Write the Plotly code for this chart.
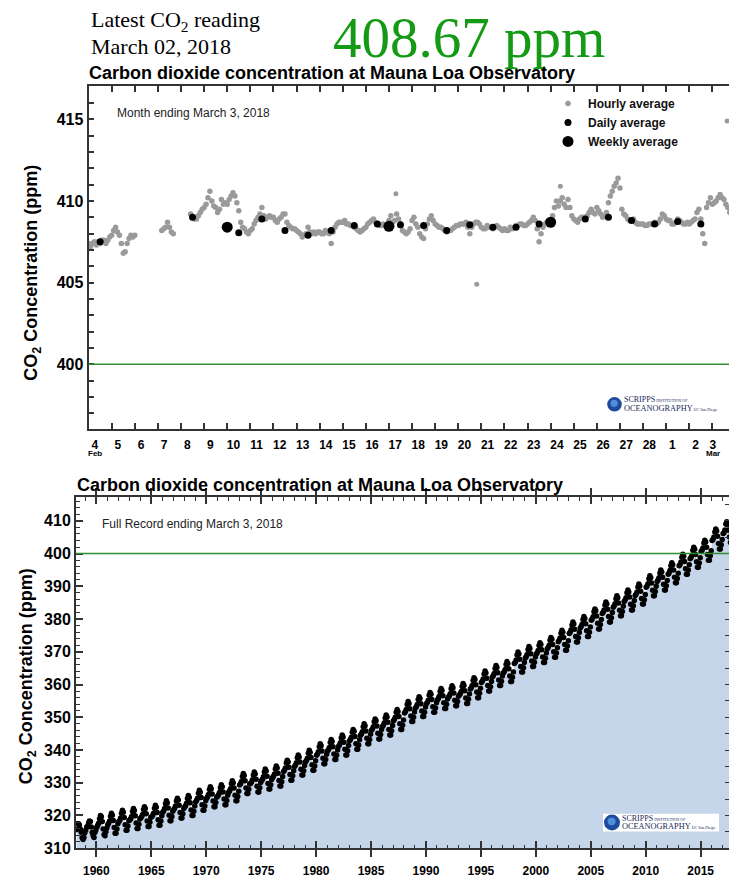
import plotly.graph_objects as go

W, H = 729, 878
def px(x): return x / W
def py(y): return 1 - y / H

SANS = "Liberation Sans, Arial, Helvetica, sans-serif"
SERIF = "Liberation Serif, Times New Roman, serif"

# ---------------- Top panel data (days since 4 Feb 2018 00:00, one value every 2 h) ----------------
hourly_step_days = 1 / 12
hourly_co2 = [
    407.4, 407.2, 407.4, 407.5, 407.3, 407.5, 407.4, 407.6, 407.6, 407.4, 407.6, 407.8,  # Feb 4
    407.9, 408.2, 408.4, 408.1, 407.9, 407.4, 406.8, 406.9, 407.4, 407.7, 407.9, 407.8,  # Feb 5
    407.9, None, None, None, None, None, None, None, None, None, None, None,            # Feb 6
    None, None, 408.2, 408.3, 408.4, 408.7, 408.4, 408.1, 408.0, None, None, None,      # Feb 7
    None, None, None, None, None, 409.2, 409.0, 408.9, 408.9, 409.1, 409.3, 409.5,      # Feb 8
    409.6, 409.8, 410.2, 410.6, 410.0, 409.7, 409.6, 409.3, 409.5, 410.1, 409.8, 409.9,  # Feb 9
    409.8, 410.1, 410.3, 410.5, 410.3, 409.9, 409.4, 408.7, 408.4, 408.3, 408.1, 408.0,  # Feb 10
    408.2, 408.3, 408.6, 408.8, 409.0, 409.2, 409.6, 409.1, 408.9, 409.0, 409.1, 409.0,  # Feb 11
    409.0, 408.8, 408.7, 408.9, 409.0, 409.2, 409.2, 408.7, 408.5, 408.4, 408.3, 408.3,  # Feb 12
    408.2, 408.1, 408.0, 407.8, 407.9, 408.0, 408.4, 408.1, 408.0, 408.1, 408.0, 408.1,  # Feb 13
    408.1, 408.0, 408.0, 408.2, 408.1, 408.0, 407.4, 408.1, 408.4, 408.6, 408.7, 408.7,  # Feb 14
    408.7, 408.8, 408.6, 408.6, 408.5, 408.5, 408.4, 408.3, 408.2, 408.1, 408.2, 408.3,  # Feb 15
    408.4, 408.6, 408.7, 408.8, 408.9, 408.7, 408.6, 408.5, 408.5, 408.6, 408.5, 408.4,  # Feb 16
    408.8, 409.1, 408.7, 408.8, 409.2, 408.9, 408.6, 408.2, 408.1, 408.0, 408.1, 408.3,  # Feb 17
    408.8, 409.0, 408.6, 408.4, 408.0, 407.8, 407.7, 408.3, 408.6, 408.9, 409.1, 408.8,  # Feb 18
    408.6, 408.5, 408.4, 408.4, 408.3, 408.2, 408.1, 408.2, 408.2, 408.3, 408.4, 408.5,  # Feb 19
    408.5, 408.6, 408.6, 408.6, 408.7, 408.4, 408.0, 408.4, 408.6, 408.7, 408.7, 408.6,  # Feb 20
    408.4, 408.3, 408.3, 408.5, 408.4, 408.4, 408.3, 408.4, 408.5, 408.4, 408.3, 408.2,  # Feb 21
    408.3, 408.2, 408.2, 408.4, 408.3, 408.4, 408.5, 408.5, 408.6, 408.6, 408.5, 408.5,  # Feb 22
    408.6, 408.7, 408.8, 409.0, 408.8, 408.3, 407.5, 408.0, 408.4, 408.6, 408.7, 408.8,  # Feb 23
    408.8, 409.1, 409.6, 410.0, 409.7, 410.0, 410.2, 409.8, 409.6, 410.1, 409.6, 409.1,  # Feb 24
    408.9, 408.8, 408.7, 408.9, 409.0, 409.0, 408.9, 409.1, 409.3, 409.5, 409.3, 409.2,  # Feb 25
    409.6, 409.4, 409.2, 409.0, 409.1, 409.3, 409.9, 410.3, 410.6, 410.9, 411.1, 411.4,  # Feb 26
    410.8, 409.5, 409.2, 409.1, 408.9, 408.8, 408.8, 408.9, 408.7, 408.6, 408.6, 408.6,  # Feb 27
    408.6, 408.5, 408.5, 408.6, 408.6, 408.6, 408.7, 408.6, 408.7, 408.9, 409.2, 409.1,  # Feb 28
    408.9, 408.8, 408.8, 408.6, 408.6, 408.7, 408.9, 408.8, 408.7, 408.6, 408.6, 408.7,  # Mar 1
    408.6, 408.7, 408.8, 408.9, 409.3, 409.5, 408.9, 408.0, 407.4, 409.6, 409.9, 410.2,  # Mar 2
    409.8, 409.9, 410.0, 410.2, 410.4, 410.2, 410.1, 409.8, 409.6, 409.3,                # Mar 3
]
hourly_extra_days = [13.3, 16.8, 20.42, 27.64]
hourly_extra_co2 = [410.45, 404.9, 410.9, 414.9]

daily_days = [0.5, 4.5, 6.5, 7.5, 8.5, 9.5, 10.5, 11.5, 12.5, 13.5, 14.5,
              15.5, 16.5, 17.5, 18.5, 19.5, 21.5, 22.5, 23.5, 24.5, 25.5, 26.5]
daily_co2 = [407.5, 409.0, 408.05, 408.9, 408.2, 407.9, 408.2, 408.5, 408.6, 408.55, 408.5,
             408.2, 408.55, 408.4, 408.4, 408.6, 408.9, 409.0, 408.8, 408.6, 408.75, 408.6]

weekly_days = [6.0, 13.0, 20.0]
weekly_co2 = [408.4, 408.45, 408.7]

day_labels = [str(d) for d in range(4, 29)] + ["1", "2", "3"]
day_label_pos = [d + 0.27 for d in range(27)] + [27.02]
midnight_ticks = list(range(1, 28))
month_marks = ["Feb", "Mar"]
month_mark_pos = [0.27, 27.02]

# ---------------- Bottom panel data: monthly means, Jan..Dec ----------------
first_year = 1958
monthly_co2 = [
    [None, None, 315.7, 317.5, 317.5, 317.1, 315.9, 314.9, 313.2, 312.7, 313.3, 314.7],  # 1958
    [315.6, 316.5, 316.7, 317.7, 318.3, 318.2, 316.5, 314.8, 313.8, 313.3, 314.8, 315.6],  # 1959
    [316.4, 317.0, 317.6, 319.0, 320.0, 319.6, 318.2, 315.9, 314.2, 313.8, 315.0, 316.2],  # 1960
    [317.2, 317.6, 318.3, 319.8, 320.7, 320.1, 318.5, 316.3, 314.6, 314.6, 315.9, 317.5],  # 1961
    [318.1, 318.5, 319.2, 320.7, 321.6, 321.0, 319.4, 317.2, 315.5, 315.5, 316.8, 318.4],  # 1962
    [318.6, 319.0, 319.7, 321.2, 322.1, 321.5, 319.9, 317.7, 316.0, 316.0, 317.3, 318.9],  # 1963
    [319.2, 319.6, 320.3, 321.8, 322.7, 322.1, 320.5, 318.3, 316.6, 316.6, 317.9, 319.5],  # 1964
    [319.6, 320.0, 320.7, 322.2, 323.1, 322.5, 320.9, 318.7, 317.0, 317.0, 318.3, 319.9],  # 1965
    [321.0, 321.4, 322.1, 323.6, 324.5, 323.9, 322.3, 320.1, 318.4, 318.4, 319.7, 321.3],  # 1966
    [321.8, 322.2, 322.9, 324.4, 325.3, 324.7, 323.1, 320.9, 319.2, 319.2, 320.5, 322.1],  # 1967
    [322.6, 323.0, 323.7, 325.2, 326.1, 325.5, 323.9, 321.7, 320.0, 320.0, 321.3, 322.9],  # 1968
    [324.2, 324.6, 325.3, 326.8, 327.7, 327.1, 325.5, 323.3, 321.6, 321.6, 322.9, 324.5],  # 1969
    [325.3, 325.7, 326.4, 327.9, 328.8, 328.2, 326.6, 324.4, 322.7, 322.7, 324.0, 325.6],  # 1970
    [325.9, 326.3, 327.0, 328.5, 329.4, 328.8, 327.2, 325.0, 323.3, 323.3, 324.6, 326.2],  # 1971
    [327.1, 327.5, 328.2, 329.7, 330.6, 330.0, 328.4, 326.2, 324.5, 324.5, 325.8, 327.4],  # 1972
    [329.3, 329.7, 330.4, 331.9, 332.8, 332.2, 330.6, 328.4, 326.7, 326.7, 328.0, 329.6],  # 1973
    [329.8, 330.2, 330.9, 332.4, 333.3, 332.7, 331.1, 328.9, 327.2, 327.2, 328.5, 330.1],  # 1974
    [330.7, 331.1, 331.8, 333.3, 334.2, 333.6, 332.0, 329.8, 328.1, 328.1, 329.4, 331.0],  # 1975
    [331.6, 332.0, 332.7, 334.2, 335.1, 334.5, 332.9, 330.7, 329.0, 329.0, 330.3, 331.9],  # 1976
    [333.4, 333.8, 334.5, 336.0, 336.9, 336.3, 334.7, 332.5, 330.8, 330.8, 332.1, 333.7],  # 1977
    [335.0, 335.4, 336.1, 337.6, 338.5, 337.9, 336.3, 334.1, 332.4, 332.4, 333.7, 335.3],  # 1978
    [336.4, 336.8, 337.5, 339.0, 339.9, 339.3, 337.7, 335.5, 333.8, 333.8, 335.1, 336.7],  # 1979
    [338.4, 338.8, 339.5, 341.0, 341.9, 341.3, 339.7, 337.5, 335.8, 335.8, 337.1, 338.7],  # 1980
    [339.7, 340.1, 340.8, 342.3, 343.2, 342.6, 341.0, 338.8, 337.1, 337.1, 338.4, 340.0],  # 1981
    [341.1, 341.5, 342.2, 343.7, 344.6, 344.0, 342.4, 340.2, 338.5, 338.5, 339.8, 341.4],  # 1982
    [342.8, 343.2, 343.9, 345.4, 346.3, 345.7, 344.1, 341.9, 340.2, 340.2, 341.5, 343.1],  # 1983
    [344.5, 344.9, 345.6, 347.1, 348.0, 347.4, 345.8, 343.6, 341.9, 341.9, 343.2, 344.8],  # 1984
    [346.0, 346.4, 347.1, 348.6, 349.5, 348.9, 347.3, 345.1, 343.4, 343.4, 344.7, 346.3],  # 1985
    [347.2, 347.6, 348.3, 349.8, 350.7, 350.1, 348.5, 346.3, 344.6, 344.6, 345.9, 347.5],  # 1986
    [348.9, 349.3, 350.0, 351.5, 352.4, 351.8, 350.2, 348.0, 346.3, 346.3, 347.6, 349.2],  # 1987
    [351.3, 351.7, 352.4, 353.9, 354.8, 354.2, 352.6, 350.4, 348.7, 348.7, 350.0, 351.6],  # 1988
    [352.8, 353.2, 353.9, 355.4, 356.3, 355.7, 354.1, 351.9, 350.2, 350.2, 351.5, 353.1],  # 1989
    [354.1, 354.5, 355.2, 356.7, 357.6, 357.0, 355.4, 353.2, 351.5, 351.5, 352.8, 354.4],  # 1990
    [355.3, 355.7, 356.4, 357.9, 358.8, 358.2, 356.6, 354.4, 352.7, 352.7, 354.0, 355.6],  # 1991
    [356.1, 356.5, 357.2, 358.7, 359.6, 359.0, 357.4, 355.2, 353.5, 353.5, 354.8, 356.4],  # 1992
    [356.8, 357.2, 357.9, 359.4, 360.3, 359.7, 358.1, 355.9, 354.2, 354.2, 355.5, 357.1],  # 1993
    [358.6, 359.0, 359.7, 361.2, 362.1, 361.5, 359.9, 357.7, 356.0, 356.0, 357.3, 358.9],  # 1994
    [360.6, 361.0, 361.7, 363.2, 364.1, 363.5, 361.9, 359.7, 358.0, 358.0, 359.3, 360.9],  # 1995
    [362.3, 362.7, 363.4, 364.9, 365.8, 365.2, 363.6, 361.4, 359.7, 359.7, 361.0, 362.6],  # 1996
    [363.5, 363.9, 364.6, 366.1, 367.0, 366.4, 364.8, 362.6, 360.9, 360.9, 362.2, 363.8],  # 1997
    [366.4, 366.8, 367.5, 369.0, 369.9, 369.3, 367.7, 365.5, 363.8, 363.8, 365.1, 366.7],  # 1998
    [368.1, 368.5, 369.2, 370.7, 371.6, 371.0, 369.4, 367.2, 365.5, 365.5, 366.8, 368.4],  # 1999
    [369.3, 369.7, 370.4, 371.9, 372.8, 372.2, 370.6, 368.4, 366.7, 366.7, 368.0, 369.6],  # 2000
    [370.9, 371.3, 372.0, 373.5, 374.4, 373.8, 372.2, 370.0, 368.3, 368.3, 369.6, 371.2],  # 2001
    [373.1, 373.5, 374.2, 375.7, 376.6, 376.0, 374.4, 372.2, 370.5, 370.5, 371.8, 373.4],  # 2002
    [375.6, 376.0, 376.7, 378.2, 379.1, 378.5, 376.9, 374.7, 373.0, 373.0, 374.3, 375.9],  # 2003
    [377.3, 377.7, 378.4, 379.9, 380.8, 380.2, 378.6, 376.4, 374.7, 374.7, 376.0, 377.6],  # 2004
    [379.6, 380.0, 380.7, 382.2, 383.1, 382.5, 380.9, 378.7, 377.0, 377.0, 378.3, 379.9],  # 2005
    [381.7, 382.1, 382.8, 384.3, 385.2, 384.6, 383.0, 380.8, 379.1, 379.1, 380.4, 382.0],  # 2006
    [383.6, 384.0, 384.7, 386.2, 387.1, 386.5, 384.9, 382.7, 381.0, 381.0, 382.3, 383.9],  # 2007
    [385.4, 385.8, 386.5, 388.0, 388.9, 388.3, 386.7, 384.5, 382.8, 382.8, 384.1, 385.7],  # 2008
    [387.2, 387.6, 388.3, 389.8, 390.7, 390.1, 388.5, 386.3, 384.6, 384.6, 385.9, 387.5],  # 2009
    [389.7, 390.1, 390.8, 392.3, 393.2, 392.6, 391.0, 388.8, 387.1, 387.1, 388.4, 390.0],  # 2010
    [391.5, 391.9, 392.6, 394.1, 395.0, 394.4, 392.8, 390.6, 388.9, 388.9, 390.2, 391.8],  # 2011
    [393.7, 394.1, 394.8, 396.3, 397.2, 396.6, 395.0, 392.8, 391.1, 391.1, 392.4, 394.0],  # 2012
    [396.3, 396.7, 397.4, 398.9, 399.8, 399.2, 397.6, 395.4, 393.7, 393.7, 395.0, 396.6],  # 2013
    [398.4, 398.8, 399.5, 401.0, 401.9, 401.3, 399.7, 397.5, 395.8, 395.8, 397.1, 398.7],  # 2014
    [400.6, 401.0, 401.7, 403.2, 404.1, 403.5, 401.9, 399.7, 398.0, 398.0, 399.3, 400.9],  # 2015
    [404.0, 404.4, 405.1, 406.6, 407.5, 406.9, 405.3, 403.1, 401.4, 401.4, 402.7, 404.3],  # 2016
    [406.1, 406.4, 407.2, 409.0, 409.7, 408.8, 407.1, 405.1, 403.4, 403.6, 405.1, 406.8],  # 2017
    [408.0, 408.4, None, None, None, None, None, None, None, None, None, None],            # 2018
]
year_ticks_major = list(range(1960, 2020, 5))
year_ticks_minor = list(range(1959, 2018))

# ---------------- derived series ----------------
hourly_days = [i * hourly_step_days for i in range(len(hourly_co2))]
month_t, month_v = [], []
for i, row in enumerate(monthly_co2):
    for m, v in enumerate(row):
        if v is not None:
            month_t.append(first_year + i + (m + 0.5) / 12)
            month_v.append(v)

fig = go.Figure()
GRAY = "#9a9a9a"

fig.add_trace(go.Scatter(x=hourly_days, y=hourly_co2, mode="markers", name="Hourly average",
                         marker=dict(color=GRAY, size=5.5, line=dict(width=0)),
                         xaxis="x", yaxis="y"))
fig.add_trace(go.Scatter(x=hourly_extra_days, y=hourly_extra_co2, mode="markers",
                         marker=dict(color=GRAY, size=5, line=dict(width=0)),
                         xaxis="x", yaxis="y", showlegend=False))
fig.add_trace(go.Scatter(x=daily_days, y=daily_co2, mode="markers", name="Daily average",
                         marker=dict(color="black", size=7, line=dict(width=0)),
                         xaxis="x", yaxis="y"))
fig.add_trace(go.Scatter(x=weekly_days, y=weekly_co2, mode="markers", name="Weekly average",
                         marker=dict(color="black", size=11, line=dict(width=0)),
                         xaxis="x", yaxis="y"))

fig.add_trace(go.Scatter(x=month_t, y=month_v, mode="lines", fill="tozeroy",
                         fillcolor="rgb(197,213,234)", line=dict(width=0),
                         xaxis="x2", yaxis="y2", showlegend=False, hoverinfo="skip"))
fig.add_trace(go.Scatter(x=month_t, y=month_v, mode="markers",
                         marker=dict(color="black", size=5.5, line=dict(width=0)),
                         xaxis="x2", yaxis="y2", showlegend=False))

# invisible carrier traces so that the overlay axes (labels / extra ticks) get drawn
for xa, ya, xs in (("x3", "y", day_label_pos), ("x4", "y2", year_ticks_minor), ("x2", "y3", year_ticks_minor)):
    fig.add_trace(go.Scatter(x=xs[:1], y=[None], mode="markers", xaxis=xa, yaxis=ya,
                             showlegend=False, hoverinfo="skip", marker=dict(opacity=0)))

axcol = "#333333"
tfont_x = dict(family=SANS, size=12, color="black", weight="bold")
tfont_y = dict(family=SANS, size=16, color="black", weight="bold")
TOP_RANGE_X = [0, 27.72]
BOT_RANGE_X = [1958.15, 2017.58]
BOT_RANGE_Y = [310, 417.2]

fig.update_layout(
    width=W, height=H, margin=dict(l=0, r=0, t=0, b=0),
    paper_bgcolor="white", plot_bgcolor="white",
    showlegend=True,
    legend=dict(x=px(548), y=py(90), xanchor="left", yanchor="top",
                bgcolor="rgba(0,0,0,0)", font=dict(family=SANS, size=12, color="#111", weight="bold"),
                itemwidth=30, tracegroupgap=0),
    xaxis=dict(domain=[px(88.6), 1], range=TOP_RANGE_X, anchor="y",
               tickmode="array", tickvals=midnight_ticks, showticklabels=False,
               ticks="inside", ticklen=6, tickcolor=axcol, tickwidth=1.5,
               showline=True, linecolor=axcol, linewidth=2, mirror="allticks",
               showgrid=False, zeroline=False),
    xaxis3=dict(overlaying="x", anchor="y", side="bottom", range=TOP_RANGE_X,
                tickmode="array", tickvals=day_label_pos, ticktext=day_labels,
                ticks="", tickfont=tfont_x, ticklabelstandoff=7,
                showline=False, showgrid=False, zeroline=False),
    yaxis=dict(domain=[py(434), py(87)], range=[396.04, 417.04], anchor="x",
               tickmode="array", tickvals=[400, 405, 410, 415],
               ticks="inside", ticklen=5, tickcolor=axcol, tickwidth=1.5, tickfont=tfont_y,
               minor=dict(tick0=0, dtick=1, ticks="inside", ticklen=5, tickcolor=axcol, tickwidth=1.5),
               showline=True, linecolor=axcol, linewidth=2, mirror=False,
               showgrid=False, zeroline=False),
    xaxis2=dict(domain=[px(76), 1], range=BOT_RANGE_X, anchor="y2",
                tickmode="array", tickvals=year_ticks_major,
                ticks="inside", ticklen=7, tickcolor=axcol, tickwidth=1.5,
                tickfont=tfont_x, ticklabelstandoff=10,
                showline=True, linecolor=axcol, linewidth=2, mirror="allticks",
                showgrid=False, zeroline=False),
    xaxis4=dict(overlaying="x2", anchor="y2", side="bottom", range=BOT_RANGE_X,
                tickmode="array", tickvals=year_ticks_minor, showticklabels=False,
                ticks="inside", ticklen=3.5, tickcolor=axcol, tickwidth=1.2, mirror="allticks",
                showline=False, showgrid=False, zeroline=False),
    yaxis2=dict(domain=[py(858), py(503)], range=BOT_RANGE_Y, anchor="x2",
                tick0=310, dtick=10, ticks="inside", ticklen=7, tickcolor=axcol, tickwidth=1.5,
                tickfont=tfont_y,
                minor=dict(tick0=310, dtick=2, ticks="inside", ticklen=3.5, tickcolor=axcol, tickwidth=1.2),
                showline=True, linecolor=axcol, linewidth=2, mirror=False,
                showgrid=False, zeroline=False),
    yaxis3=dict(overlaying="y2", side="right", range=BOT_RANGE_Y, anchor="x2",
                tick0=310, dtick=5, ticks="inside", ticklen=4, tickcolor=axcol, tickwidth=1.2,
                showticklabels=False, showline=False, showgrid=False, zeroline=False),
)

for yref, xref in (("y", "x domain"), ("y2", "x2 domain")):
    fig.add_shape(type="line", xref=xref, yref=yref, x0=0, x1=1, y0=400, y1=400,
                  line=dict(color="#2f8f2f", width=1.5), layer="above")

ann = []
def text(x, y, s, size, family=SANS, color="black", bold=False, xanchor="left", yanchor="middle", angle=0):
    f = dict(family=family, size=size, color=color)
    if bold:
        f["weight"] = "bold"
    ann.append(dict(x=px(x), y=py(y), xref="paper", yref="paper", text=s, showarrow=False,
                    xanchor=xanchor, yanchor=yanchor, font=f, textangle=angle))

text(89, 21, "Latest CO<sub>2</sub> reading", 22, SERIF)
text(89, 47, "March 02, 2018", 22, SERIF)
text(331, 38, "408.67 ppm", 57, SERIF, color="#149a14")
text(87, 74, "Carbon dioxide concentration at Mauna Loa Observatory", 18, bold=True)
text(75, 491, "Carbon dioxide concentration at Mauna Loa Observatory", 18, bold=True)
text(115, 114, "Month ending March 3, 2018", 12, color="#222")
text(100, 530, "Full Record ending March 3, 2018", 12, color="#222")
text(33, 276, "CO<sub>2</sub> Concentration (ppm)", 18, bold=True, xanchor="center", angle=-90)
text(27, 684, "CO<sub>2</sub> Concentration (ppm)", 18, bold=True, xanchor="center", angle=-90)

for lab, pos in zip(month_marks, month_mark_pos):
    ann.append(dict(x=pos, xref="x", y=py(459), yref="paper", text=lab, showarrow=False,
                    xanchor="center", yanchor="middle",
                    font=dict(family=SANS, size=8, color="black", weight="bold")))

def logo(cx, cy, r, tx, box=None):
    if box:
        fig.add_shape(type="rect", xref="paper", yref="paper", x0=px(box[0]), x1=px(box[2]),
                      y0=py(box[3]), y1=py(box[1]), fillcolor="white", line=dict(width=0))
    fig.add_shape(type="circle", xref="paper", yref="paper", x0=px(cx - r), x1=px(cx + r),
                  y0=py(cy + r), y1=py(cy - r), fillcolor="#1d4a9c", line=dict(width=0))
    fig.add_shape(type="circle", xref="paper", yref="paper", x0=px(cx - r * 0.55), x1=px(cx + r * 0.45),
                  y0=py(cy + r * 0.35), y1=py(cy - r * 0.65), fillcolor="#4f8fd6", line=dict(width=0))
    text(tx, cy - 4.5, "SCRIPPS<span style='font-size:4px'> INSTITUTION OF</span>", 8, SERIF, color="#1a2a5a")
    text(tx, cy + 4, "OCEANOGRAPHY<span style='font-size:4px'> UC San Diego</span>", 8.3, SERIF, color="#1a2a5a")

logo(614.5, 409, 7.3, 622)
logo(612, 832, 8, 620, box=(603, 823, 719, 841))

fig.update_layout(annotations=ann)
fig.write_html("out.html", config={"displayModeBar": False},
               post_script="document.body.style.margin='0';document.body.style.overflow='hidden';")
